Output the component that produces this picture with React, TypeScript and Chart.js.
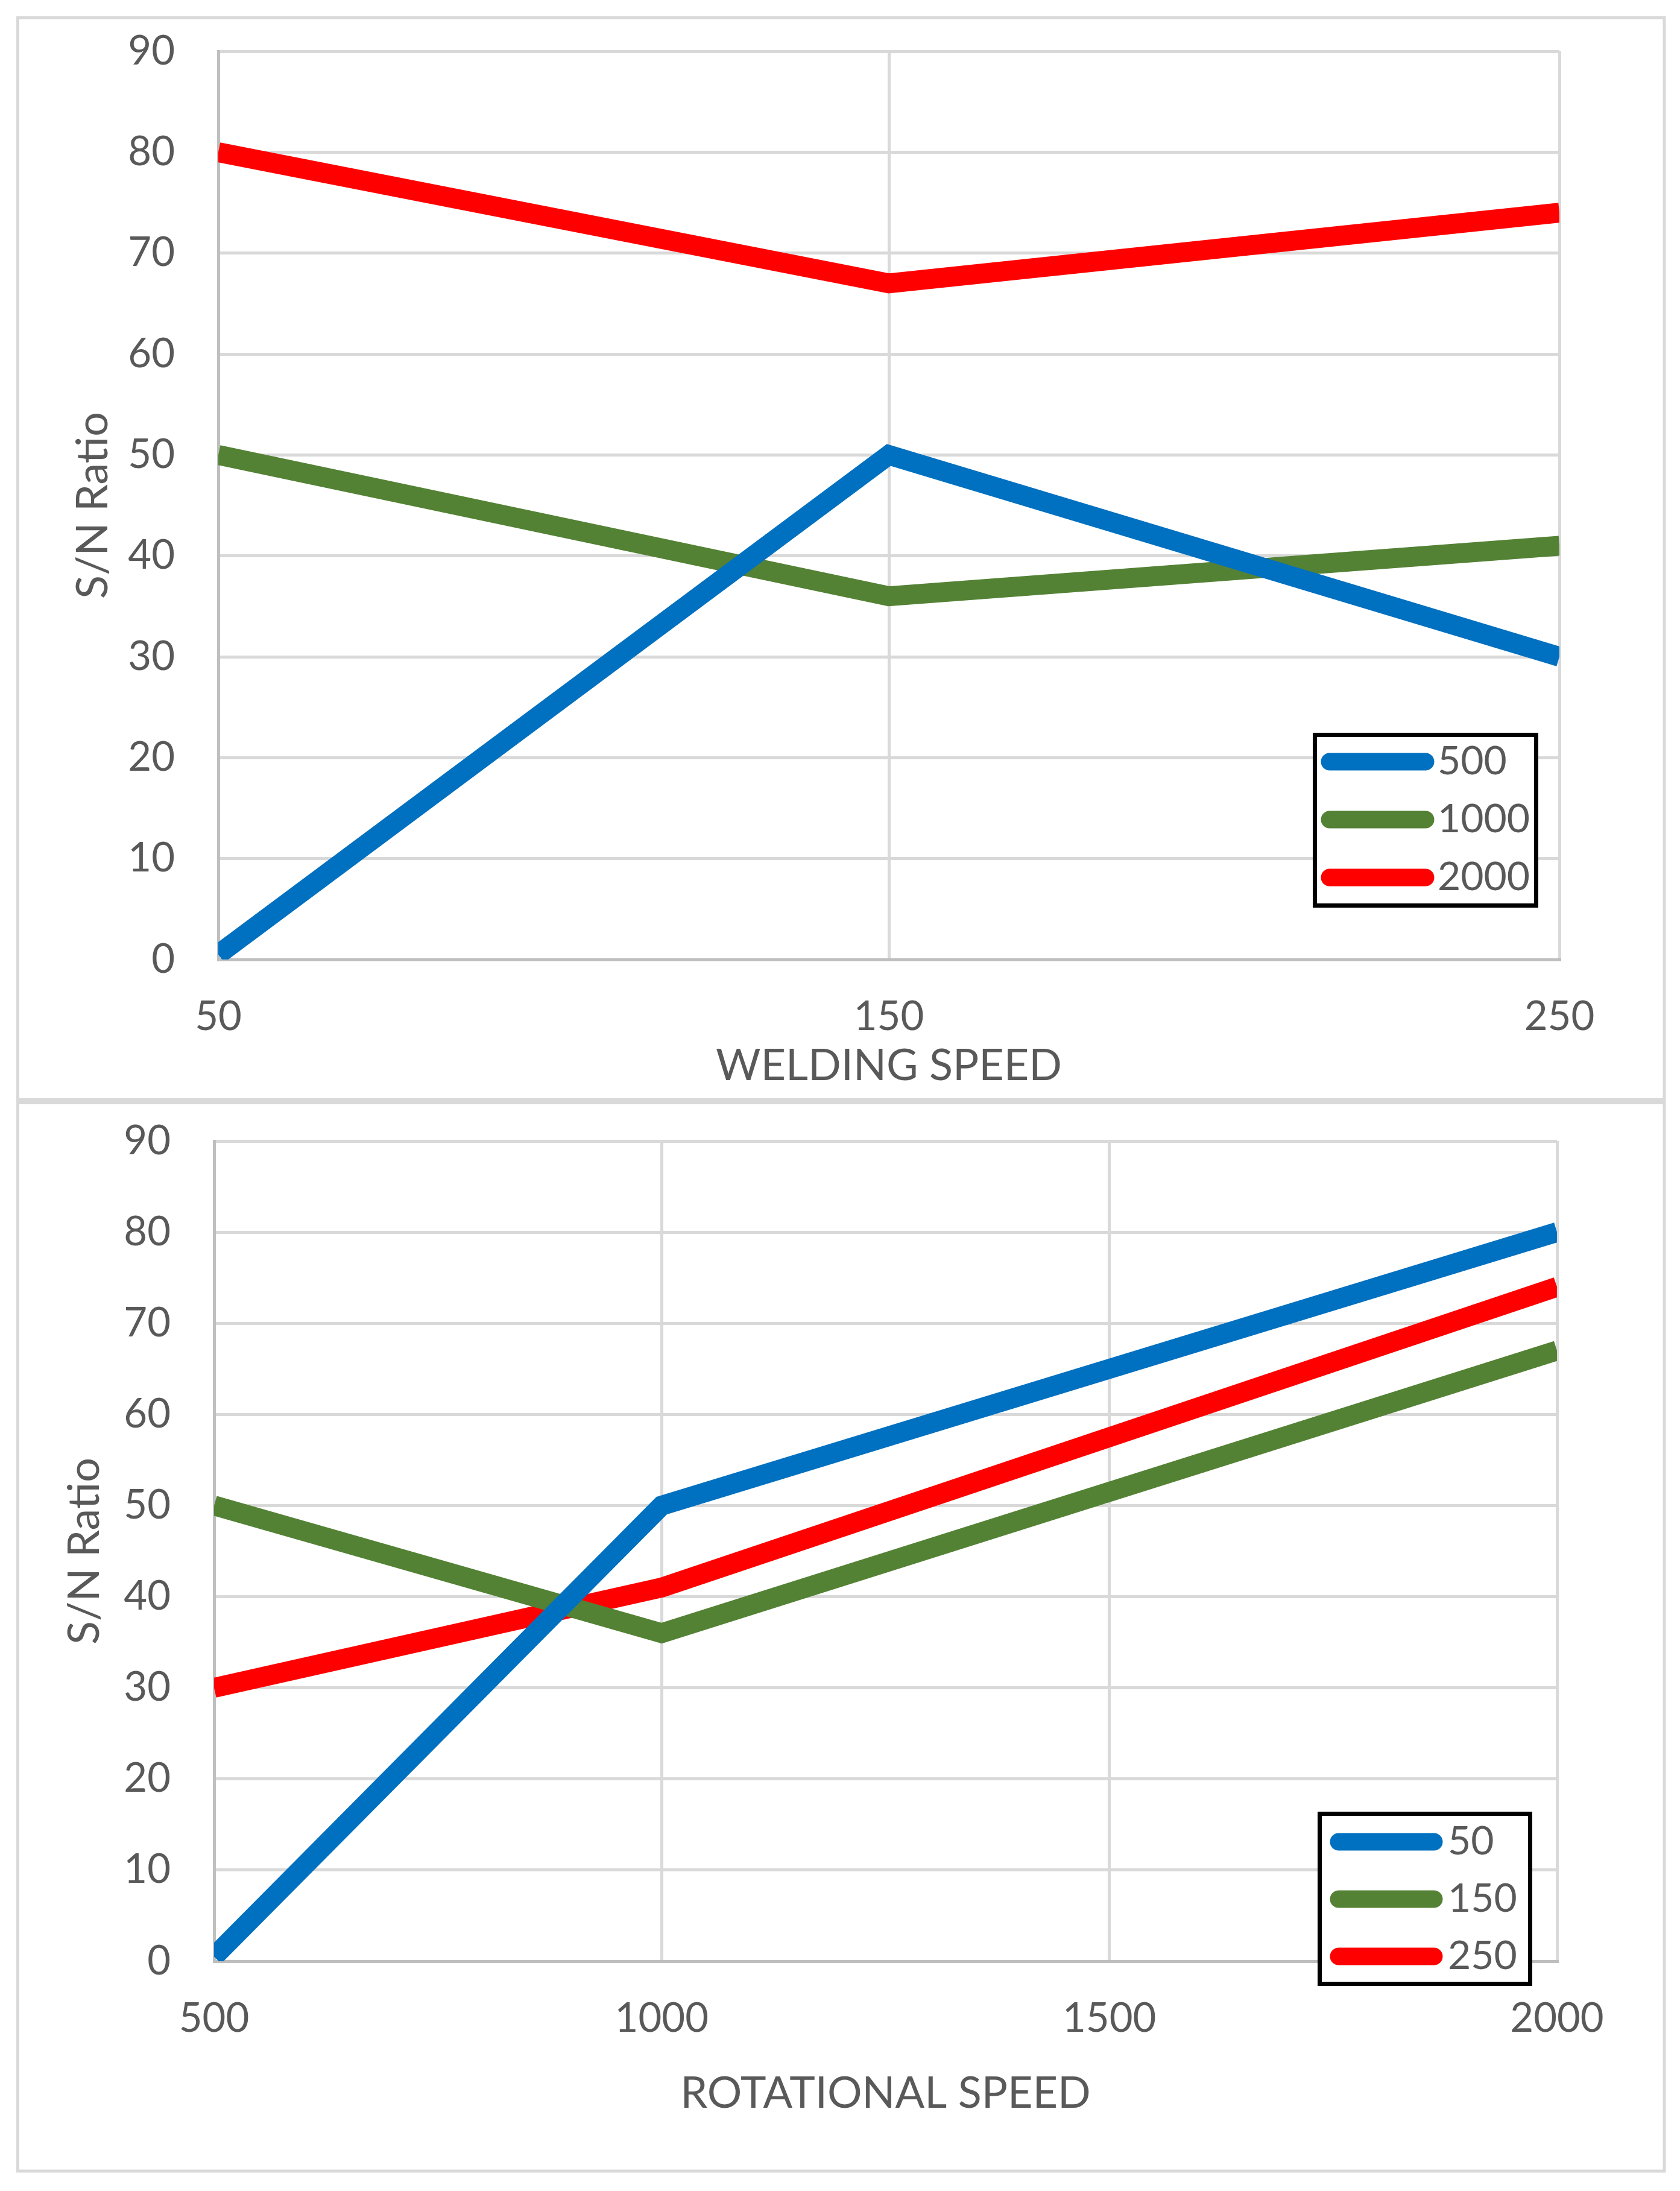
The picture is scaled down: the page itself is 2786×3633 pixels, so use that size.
import { useEffect, useRef } from 'react'
import { Chart, registerables } from 'chart.js'

Chart.register(...registerables)

// x values
const weldingSpeeds = ['50', '150', '250']
const rotationalSpeeds = [500, 1000, 2000]

// S/N ratio against welding speed, one line per rotational speed
const rot500 = [0.5, 50, 30]
const rot1000 = [50, 36, 41]
const rot2000 = [80, 67, 74]

// S/N ratio against rotational speed, one line per welding speed
const weld50 = [0.5, 50, 80]
const weld150 = [50, 36, 67]
const weld250 = [30, 41, 74]

const BLUE = '#0070C0'
const GREEN = '#548235'
const RED = '#FF0000'
const TEXT = '#595959'
const GRID = '#d9d9d9'
const AXIS = '#bfbfbf'
const FONT = 'Lato, "Open Sans", sans-serif'
const W = 2786

// white page + light grey frame round each chart
const framePlugin = {
  id: 'frame',
  beforeDraw(chart: any, _args: any, opts: any) {
    const { ctx } = chart
    ctx.save()
    ctx.fillStyle = '#fff'
    ctx.fillRect(0, 0, chart.width, chart.height)
    ctx.strokeStyle = GRID
    ctx.lineWidth = 5
    ctx.strokeRect(opts.x, opts.y, opts.w, opts.h)
    ctx.restore()
  },
}

// Excel-style legend: black box inside the plot, thick rounded swatches
const boxLegend = {
  id: 'boxLegend',
  afterDatasetsDraw(chart: any, _args: any, opts: any) {
    const { ctx } = chart
    const { left, top, right, bottom, rows, x1, x2, textX } = opts
    ctx.save()
    ctx.fillStyle = '#fff'
    ctx.fillRect(left, top, right - left, bottom - top)
    ctx.lineWidth = 7
    ctx.strokeStyle = '#000'
    ctx.strokeRect(left + 3.5, top + 3.5, right - left - 7, bottom - top - 7)
    chart.data.datasets.forEach((ds: any, i: number) => {
      const y = rows[i]
      ctx.beginPath()
      ctx.lineCap = 'round'
      ctx.lineWidth = 29
      ctx.strokeStyle = ds.borderColor
      ctx.moveTo(x1, y)
      ctx.lineTo(x2, y)
      ctx.stroke()
      ctx.fillStyle = TEXT
      ctx.font = `66px ${FONT}`
      ctx.textBaseline = 'middle'
      ctx.textAlign = 'left'
      ctx.fillText(ds.label, textX, y)
    })
    ctx.restore()
  },
}

const line = (label: string, color: string, data: any[]) => ({
  label, data,
  borderColor: color,
  backgroundColor: color,
  borderWidth: 33,
  pointRadius: 0,
  tension: 0,
  clip: 0,
})

const tickFont = { family: FONT, size: 67, lineHeight: 1 }
const titleFont = { family: FONT, size: 72, lineHeight: 1 }

function yScale(titlePad: number, width: number) {
  return {
    min: 0, max: 90,
    // gap between labels and axis comes from an invisible tick mark, so it does not push the plot down
    ticks: { stepSize: 10, color: TEXT, font: tickFont, padding: 0 },
    grid: { color: GRID, lineWidth: 5, drawTicks: true, tickLength: 72, tickColor: 'rgba(0,0,0,0)' },
    border: { color: AXIS, width: 5 },
    title: { display: true, text: 'S/N Ratio', color: TEXT, font: titleFont, padding: { top: titlePad, bottom: 0 } },
    afterFit: (s: any) => { s.width = width },
  }
}

function ChartBox({ top, height, config }: { top: number; height: number; config: any }) {
  const canvasRef = useRef<HTMLCanvasElement>(null)
  useEffect(() => {
    if (!canvasRef.current) return
    const chart = new Chart(canvasRef.current, config)
    return () => chart.destroy()
  }, [config])
  return (
    <canvas
      ref={canvasRef}
      width={W}
      height={height}
      style={{ position: 'absolute', left: 0, top, width: W, height }}
    />
  )
}

const topConfig: any = {
  type: 'line',
  data: {
    labels: weldingSpeeds,
    datasets: [line('500', BLUE, rot500), line('1000', GREEN, rot1000), line('2000', RED, rot2000)],
  },
  plugins: [framePlugin, boxLegend],
  options: {
    responsive: false,
    animation: false,
    devicePixelRatio: 1,
    layout: { padding: { left: 30, right: 200, top: 85, bottom: 16 } },
    plugins: {
      legend: { display: false },
      tooltip: { enabled: false },
      frame: { x: 29.5, y: 29.5, w: 2730.5, h: 1794 },
      boxLegend: { left: 2177, top: 1215, right: 2551, bottom: 1505, rows: [1263, 1359, 1455], x1: 2205, x2: 2364, textX: 2384 },
    },
    scales: {
      x: {
        type: 'category',
        grid: { color: GRID, lineWidth: 5, drawTicks: false },
        border: { color: AXIS, width: 5 },
        ticks: { color: TEXT, font: tickFont, padding: 62, maxRotation: 0, autoSkip: false },
        title: { display: true, text: 'WELDING SPEED', color: TEXT, font: titleFont, padding: { top: 0, bottom: 6 } },
        afterFit: (s: any) => { s.height = 219 },
      },
      y: yScale(89, 332),
    },
  },
}

const pts = (ys: number[]) => rotationalSpeeds.map((x, i) => ({ x, y: ys[i] }))

const bottomConfig: any = {
  type: 'line',
  data: {
    datasets: [line('50', BLUE, pts(weld50)), line('150', GREEN, pts(weld150)), line('250', RED, pts(weld250))],
  },
  plugins: [framePlugin, boxLegend],
  options: {
    responsive: false,
    animation: false,
    devicePixelRatio: 1,
    layout: { padding: { left: 30, right: 204, top: 66, bottom: 119 } },
    plugins: {
      legend: { display: false },
      tooltip: { enabled: false },
      frame: { x: 29.5, y: 2.5, w: 2730.5, h: 1771.5 },
      boxLegend: { left: 2185, top: 1178, right: 2541, bottom: 1467, rows: [1228, 1323, 1418], x1: 2220, x2: 2378, textX: 2401 },
    },
    scales: {
      x: {
        type: 'linear',
        min: 500, max: 2000,
        grid: { color: GRID, lineWidth: 5, drawTicks: false },
        border: { color: AXIS, width: 5 },
        ticks: { stepSize: 500, color: TEXT, font: tickFont, padding: 62, maxRotation: 0, callback: (v: any) => String(v) },
        title: { display: true, text: 'ROTATIONAL SPEED', color: TEXT, font: titleFont, padding: { top: 0, bottom: 6 } },
        afterFit: (s: any) => { s.height = 262 },
      },
      y: yScale(75, 325),
    },
  },
}

export default function App() {
  useEffect(() => { document.body.style.margin = '0' }, [])
  return (
    <div style={{ position: 'relative', width: W, height: 3633, background: '#fff' }}>
      <ChartBox top={0} height={1826} config={topConfig} />
      <ChartBox top={1826} height={1807} config={bottomConfig} />
    </div>
  )
}
